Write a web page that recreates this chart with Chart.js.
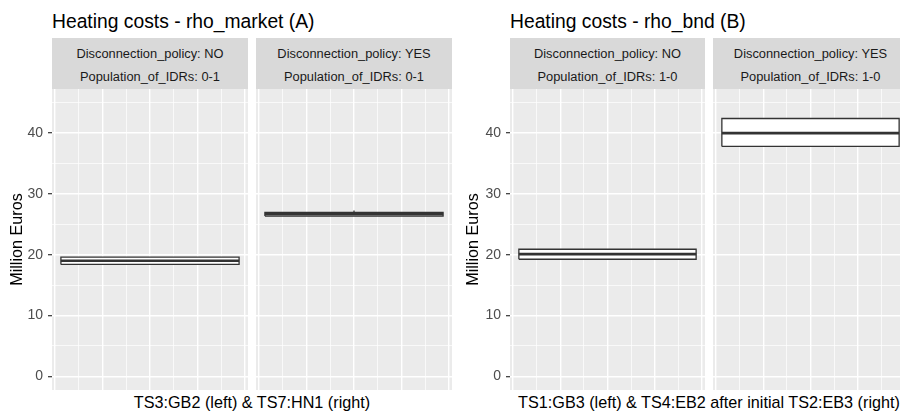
<!DOCTYPE html>
<html>
<head>
<meta charset="utf-8">
<script src="https://cdn.jsdelivr.net/npm/chart.js@4.4.0/dist/chart.umd.min.js"></script>
<style>
html,body{margin:0;padding:0;background:#ffffff;overflow:hidden;}
#wrap{position:relative;width:900px;height:411px;overflow:hidden;background:#ffffff;font-family:'Liberation Sans',Arial,Helvetica,sans-serif;}
.t{position:absolute;white-space:nowrap;line-height:1;color:#000000;}
.title{font-size:19.3px;top:12px;}
.xt{font-size:16.2px;top:394px;text-align:center;}
.strip{position:absolute;top:38px;height:47px;padding-top:4px;background:#D9D9D9;color:#1A1A1A;font-size:12.85px;line-height:23px;text-align:center;white-space:nowrap;overflow:hidden;}
canvas{position:absolute;}
</style>
</head>
<body>
<div id="wrap"></div>
<script>
// ---------- data ----------
const PANEL_TITLES = ['Heating costs - rho_market (A)', 'Heating costs - rho_bnd (B)'];
const X_TITLES = ['TS3:GB2 (left) & TS7:HN1 (right)', 'TS1:GB3 (left) & TS4:EB2 after initial TS2:EB3 (right)'];
const Y_TITLE = 'Million Euros';
const FACET_POLICY = ['Disconnection_policy: NO', 'Disconnection_policy: YES', 'Disconnection_policy: NO', 'Disconnection_policy: YES'];
const FACET_POPULATION = ['Population_of_IDRs: 0-1', 'Population_of_IDRs: 0-1', 'Population_of_IDRs: 1-0', 'Population_of_IDRs: 1-0'];
const BOX_MIN    = [18.4, 26.35, 19.25, 37.8];
const BOX_Q1     = [18.4, 26.35, 19.25, 37.8];
const BOX_MEDIAN = [19.0, 26.65, 20.1, 40.0];
const BOX_Q3     = [19.6, 26.95, 20.9, 42.4];
const BOX_MAX    = [19.6, 27.25, 20.9, 42.4];
const Y_MAJOR_TICKS = [0, 10, 20, 30, 40];
const Y_MINOR_TICKS = [5, 15, 25, 35, 45];
const X_MAJOR_TICKS = [-0.4, -0.2, 0, 0.2, 0.4];
const X_MINOR_TICKS = [-0.3, -0.1, 0.1, 0.3];
const Y_LIMITS = [0, 45];
const BOX_WIDTH = 0.75;

// ---------- layout ----------
const FONT = "'Liberation Sans', Arial, Helvetica, sans-serif";
const PANEL_LEFT = [52, 510];
const PANEL_RIGHT = [452, 908];
const FACETS = [
  {left: 52,  width: 196, axis: 52, titlePad: 7.8},
  {left: 256, width: 196, axis: 0,  titlePad: 0},
  {left: 510, width: 195, axis: 60, titlePad: 14.3},
  {left: 713, width: 195, axis: 0,  titlePad: 0}
];
const PLOT_TOP = 89, PLOT_H = 301, PAD = 14;

Chart.defaults.font.family = FONT;
const wrap = document.getElementById('wrap');

function addText(cls, text, left, width) {
  const d = document.createElement('div');
  d.className = 't ' + cls;
  d.textContent = text;
  d.style.left = left + 'px';
  if (width) d.style.width = width + 'px';
  wrap.appendChild(d);
}

PANEL_TITLES.forEach((t, p) => addText('title', t, PANEL_LEFT[p]));
X_TITLES.forEach((t, p) => addText('xt', t, PANEL_LEFT[p], PANEL_RIGHT[p] - PANEL_LEFT[p]));

const yExp = (Y_LIMITS[1] - Y_LIMITS[0]) * 0.05;
const Y_MIN = Y_LIMITS[0] - yExp, Y_MAX = Y_LIMITS[1] + yExp;
const X_HALF = BOX_WIDTH / 2 * 1.1;
const H = BOX_WIDTH / 2;

FACETS.forEach((f, i) => {
  const s = document.createElement('div');
  s.className = 'strip';
  s.style.left = f.left + 'px';
  s.style.width = f.width + 'px';
  const l1 = document.createElement('div'); l1.textContent = FACET_POLICY[i];
  const l2 = document.createElement('div'); l2.textContent = FACET_POPULATION[i];
  s.appendChild(l1); s.appendChild(l2);
  wrap.appendChild(s);

  const cv = document.createElement('canvas');
  const w = f.width + f.axis, h = PLOT_H + 2 * PAD;
  cv.width = w; cv.height = h;
  cv.style.left = (f.left - f.axis) + 'px';
  cv.style.top = (PLOT_TOP - PAD) + 'px';
  cv.style.width = w + 'px'; cv.style.height = h + 'px';
  wrap.appendChild(cv);

  const first = f.axis > 0;
  const base = {showLine: true, pointRadius: 0, pointHoverRadius: 0, borderColor: '#333333', borderCapStyle: 'butt', borderJoinStyle: 'miter', fill: false};
  const datasets = [
    {data: [{x: -H, y: BOX_MEDIAN[i]}, {x: H, y: BOX_MEDIAN[i]}], borderWidth: 2.6, order: 1},
    {data: [{x: -H, y: BOX_Q1[i]}, {x: H, y: BOX_Q1[i]}, {x: H, y: BOX_Q3[i]}, {x: -H, y: BOX_Q3[i]}, {x: -H, y: BOX_Q1[i]}],
     fill: 'shape', backgroundColor: '#FFFFFF', borderWidth: 1.3, order: 2},
    {data: [{x: 0, y: BOX_Q3[i]}, {x: 0, y: BOX_MAX[i]}], borderWidth: 1.3, order: 3},
    {data: [{x: 0, y: BOX_MIN[i]}, {x: 0, y: BOX_Q1[i]}], borderWidth: 1.3, order: 3}
  ].map(d => Object.assign({}, base, d));

  new Chart(cv, {
    type: 'scatter',
    data: {datasets},
    options: {
      responsive: false, animation: false, devicePixelRatio: 1,
      events: [],
      layout: {padding: {top: PAD, bottom: PAD, left: 0, right: 0}},
      plugins: {legend: {display: false}, tooltip: {enabled: false}, title: {display: false}},
      scales: {
        x: {
          type: 'linear', min: -X_HALF, max: X_HALF,
          afterBuildTicks: sc => { sc.ticks = X_MAJOR_TICKS.concat(X_MINOR_TICKS).sort((a, b) => a - b).map(v => ({value: v})); },
          afterFit: sc => { sc.height = 0; },
          ticks: {display: false},
          border: {display: false},
          grid: {drawTicks: false, color: '#FFFFFF',
                 lineWidth: c => (c.tick && X_MAJOR_TICKS.some(v => Math.abs(v - c.tick.value) < 1e-9)) ? 1.4 : 0.7}
        },
        y: {
          type: 'linear', min: Y_MIN, max: Y_MAX,
          afterBuildTicks: sc => { sc.ticks = Y_MAJOR_TICKS.concat(Y_MINOR_TICKS).sort((a, b) => a - b).map(v => ({value: v})); },
          afterFit: sc => { sc.width = f.axis; },
          ticks: {display: first, autoSkip: false, padding: 5, color: '#4D4D4D', font: {size: 14},
                  callback: v => Y_MAJOR_TICKS.includes(v) ? String(v) : ''},
          border: {display: false},
          title: {display: first, text: Y_TITLE, color: '#000000', font: {size: 16.2}, padding: {top: f.titlePad, bottom: 0}},
          grid: {drawTicks: first, tickLength: 4, tickWidth: 1.2, color: '#FFFFFF',
                 tickColor: c => (c.tick && Y_MAJOR_TICKS.includes(c.tick.value)) ? '#333333' : 'rgba(0,0,0,0)',
                 lineWidth: c => (c.tick && Y_MAJOR_TICKS.includes(c.tick.value)) ? 1.4 : 0.7}
        }
      }
    },
    plugins: [{
      id: 'panelBg',
      beforeDraw: chart => {
        const a = chart.chartArea, ctx = chart.ctx;
        ctx.save(); ctx.fillStyle = '#EBEBEB';
        ctx.fillRect(a.left, a.top, a.right - a.left, a.bottom - a.top);
        ctx.restore();
      }
    }]
  });
});
</script>
</body>
</html>
